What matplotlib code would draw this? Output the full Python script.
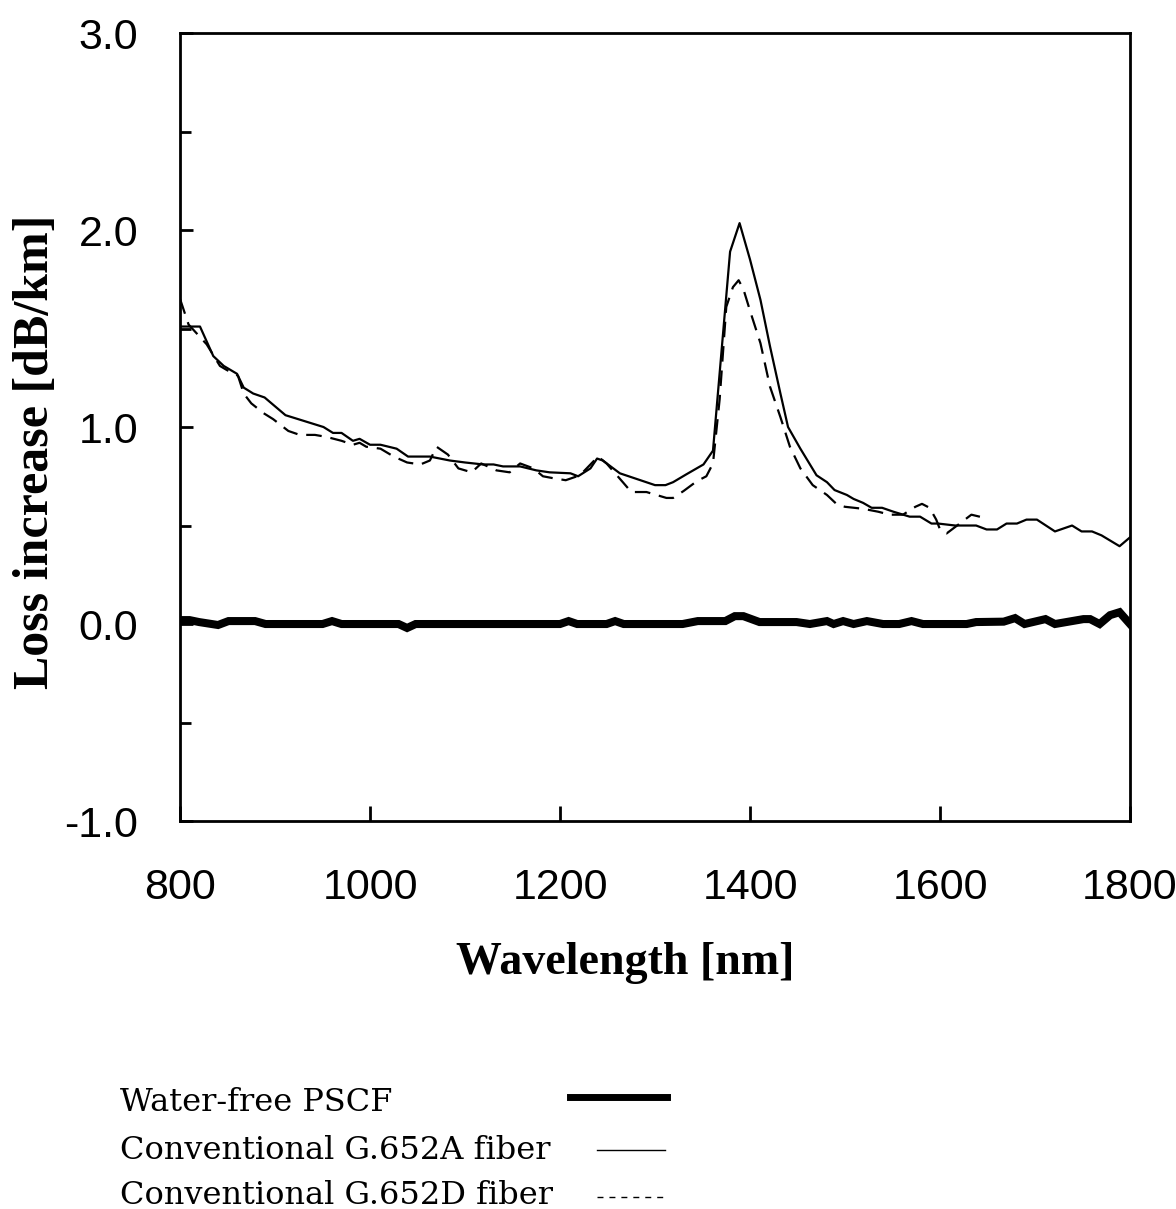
import numpy as np
import matplotlib
matplotlib.use('Agg')
import matplotlib.pyplot as plt
from matplotlib.lines import Line2D
from matplotlib.ticker import MultipleLocator

# ---------------------------
# DATA
# ---------------------------

# Conventional G.652A fiber (solid)
wl_a = [800, 821, 835, 846, 860, 867, 877, 889, 911, 951, 961, 970, 982, 989,
        1000, 1011, 1028, 1040, 1063, 1084, 1100, 1119, 1130, 1140, 1158, 1175,
        1189, 1211, 1219, 1232, 1239, 1245, 1263, 1300, 1311, 1319, 1333, 1351,
        1361, 1379, 1389, 1400, 1411, 1421, 1432, 1440, 1453, 1470, 1481, 1489,
        1502, 1509, 1519, 1528, 1539, 1551, 1568, 1579, 1591, 1598, 1616, 1638,
        1649, 1660, 1670, 1681, 1691, 1702, 1721, 1739, 1749, 1760, 1770, 1789,
        1800]
loss_a = [1.51, 1.51, 1.36, 1.31, 1.27, 1.20, 1.17, 1.15, 1.06, 1.00, 0.97, 0.97,
          0.93, 0.94, 0.91, 0.91, 0.89, 0.85, 0.85, 0.83, 0.82, 0.81, 0.81, 0.80,
          0.80, 0.78, 0.77, 0.765, 0.75, 0.79, 0.84, 0.83, 0.765, 0.705, 0.705,
          0.72, 0.76, 0.81, 0.88, 1.89, 2.035, 1.85, 1.645, 1.41, 1.17, 1.00,
          0.89, 0.755, 0.72, 0.68, 0.655, 0.635, 0.615, 0.59, 0.59, 0.57, 0.545,
          0.545, 0.51, 0.51, 0.50, 0.50, 0.48, 0.48, 0.51, 0.51, 0.53, 0.53,
          0.47, 0.50, 0.47, 0.47, 0.45, 0.395, 0.44]

# Conventional G.652D fiber (dashed)
wl_d = [800, 809, 828, 842, 849, 861, 867, 875, 888, 898, 914, 926, 942, 954,
        970, 982, 989, 996, 1011, 1025, 1039, 1053, 1063, 1070, 1082, 1093, 1107,
        1117, 1133, 1147, 1158, 1172, 1182, 1193, 1206, 1221, 1233, 1240, 1249,
        1267, 1275, 1291, 1312, 1319, 1330, 1344, 1354, 1361, 1368, 1375, 1382,
        1388, 1393, 1400, 1411, 1421, 1432, 1442, 1453, 1466, 1481, 1492, 1500,
        1519, 1535, 1547, 1561, 1574, 1581, 1589, 1596, 1600, 1607, 1618, 1633,
        1646]
loss_d = [1.65, 1.52, 1.42, 1.31, 1.29, 1.26, 1.17, 1.12, 1.07, 1.04, 0.98, 0.96,
          0.96, 0.95, 0.93, 0.91, 0.92, 0.90, 0.89, 0.85, 0.82, 0.81, 0.83, 0.90,
          0.86, 0.79, 0.77, 0.815, 0.78, 0.77, 0.815, 0.79, 0.75, 0.74, 0.73,
          0.755, 0.815, 0.85, 0.815, 0.715, 0.67, 0.67, 0.64, 0.64, 0.675, 0.725,
          0.75, 0.815, 1.14, 1.61, 1.71, 1.745, 1.70, 1.59, 1.425, 1.205, 1.05,
          0.90, 0.79, 0.705, 0.655, 0.605, 0.595, 0.585, 0.57, 0.555, 0.555,
          0.595, 0.61, 0.59, 0.53, 0.48, 0.46, 0.50, 0.555, 0.54]

# Water-free PSCF (thick)
wl_p = [800, 810, 820, 840, 851, 879, 890, 950, 960, 970, 1030, 1039, 1048,
        1200, 1209, 1218, 1249, 1258, 1267, 1329, 1345, 1374, 1384, 1393, 1410,
        1449, 1463, 1481, 1488, 1498, 1509, 1523, 1540, 1557, 1570, 1582, 1628,
        1638, 1667, 1679, 1689, 1711, 1721, 1733, 1751, 1758, 1768, 1779, 1789,
        1800]
loss_p = [0.02, 0.02, 0.01, -0.005, 0.015, 0.015, 0.0, 0.0, 0.015, 0.0, 0.0,
          -0.02, 0.0, 0.0, 0.015, 0.0, 0.0, 0.015, 0.0, 0.0, 0.015, 0.015, 0.04,
          0.04, 0.01, 0.01, 0.0, 0.015, 0.0, 0.015, 0.0, 0.015, 0.0, 0.0, 0.015,
          0.0, 0.0, 0.01, 0.012, 0.03, 0.0, 0.025, 0.0, 0.01, 0.025, 0.025, 0.0,
          0.045, 0.06, 0.0]

legend_labels = ['Water-free PSCF', 'Conventional G.652A fiber',
                 'Conventional G.652D fiber']

# ---------------------------
# PLOT
# ---------------------------

fig = plt.figure(figsize=(11.76, 12.09), dpi=100)
ax = fig.add_axes([0.1531, 0.3209, 0.8078, 0.6518])

ax.plot(wl_p, loss_p, color='black', linewidth=5.8, solid_joinstyle='miter')
ax.plot(wl_a, loss_a, color='black', linewidth=1.6)
ax.plot(wl_d, loss_d, color='black', linewidth=1.6, dashes=(7, 4))

ax.set_xlim(800, 1800)
ax.set_ylim(-1.0, 3.0)
ax.xaxis.set_major_locator(MultipleLocator(200))
ax.yaxis.set_major_locator(MultipleLocator(1.0))
ax.yaxis.set_minor_locator(MultipleLocator(0.5))
ax.yaxis.set_major_formatter(plt.FormatStrFormatter('%.1f'))

for s in ax.spines.values():
    s.set_linewidth(2)
ax.tick_params(axis='both', which='both', direction='in', width=2,
               labelsize=31, labelfontfamily='Liberation Sans')
ax.tick_params(axis='x', which='major', length=11, pad=34)
ax.tick_params(axis='y', which='major', length=9, pad=30)
ax.tick_params(axis='y', which='minor', length=8)
ax.tick_params(top=False, right=False)

ax.set_xlabel('Wavelength [nm]', fontsize=33, fontweight='bold',
              family='Liberation Serif', va='center')
ax.xaxis.set_label_coords(0.469, -0.18)
ax.set_ylabel('Loss increase [dB/km]', fontsize=36, fontweight='bold',
              family='Liberation Serif', va='center')
ax.yaxis.set_label_coords(-0.152, 0.468)

# legend block under the chart
text_y = [0.0877, 0.0488, 0.0108]
for lab, ty in zip(legend_labels, text_y):
    fig.text(0.102, ty, lab, fontsize=23, family='DejaVu Serif', va='center')

fig.add_artist(Line2D([0.4847, 0.5672], [0.0926, 0.0926], color='black',
                      linewidth=5, transform=fig.transFigure))
fig.add_artist(Line2D([0.5077, 0.5655], [0.0488, 0.0488], color='black',
                      linewidth=1.0, transform=fig.transFigure))
fig.add_artist(Line2D([0.5077, 0.5655], [0.0099, 0.0099], color='black',
                      linewidth=1.0, dashes=(4.3, 4.3), transform=fig.transFigure))

fig.savefig('out.png', dpi=100)
